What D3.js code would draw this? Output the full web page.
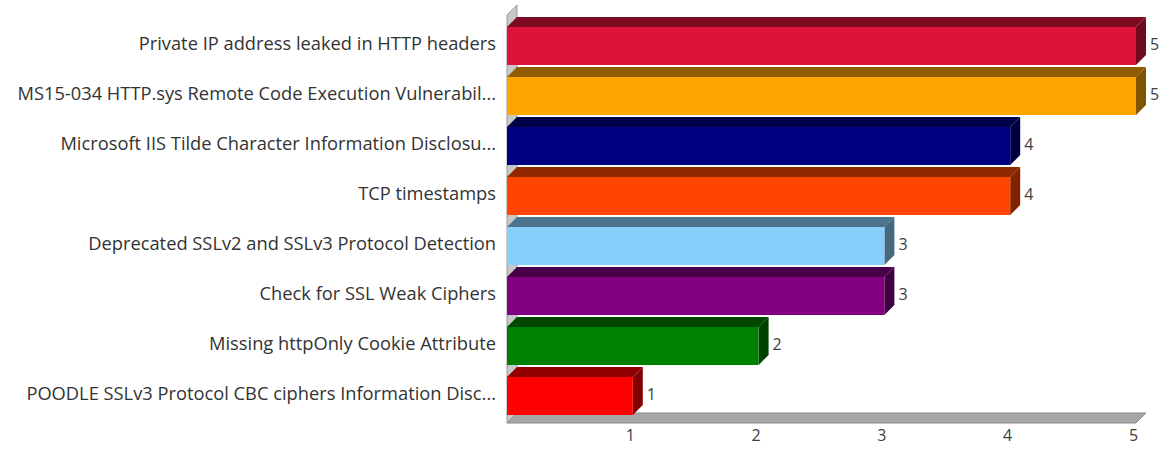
<!DOCTYPE html>
<html>
<head>
<meta charset="utf-8">
<script src="https://cdn.jsdelivr.net/npm/d3@7"></script>
<style>
  html, body { margin: 0; padding: 0; background: #fff; }
  svg { display: block; }
</style>
</head>
<body>
<svg id="chart" width="1167" height="452"></svg>
<script>
// Vulnerability counts, one bar per finding
const categories = [
  "Private IP address leaked in HTTP headers",
  "MS15-034 HTTP.sys Remote Code Execution Vulnerabil...",
  "Microsoft IIS Tilde Character Information Disclosu...",
  "TCP timestamps",
  "Deprecated SSLv2 and SSLv3 Protocol Detection",
  "Check for SSL Weak Ciphers",
  "Missing httpOnly Cookie Attribute",
  "POODLE SSLv3 Protocol CBC ciphers Information Disc..."
];
const counts = [5, 5, 4, 4, 3, 3, 2, 1];
const barColors = ["#DC143C", "#FFA500", "#000080", "#FF4500", "#87CEFA", "#800080", "#008000", "#FF0000"];
const tickValues = [1, 2, 3, 4, 5];

const svg = d3.select("#chart");
const fontFamily = "'Open Sans', sans-serif";

// plot area (front plane)
const plotLeft = 507, plotRight = 1136, plotTop = 21, plotBottom = 423;
const depth = 10; // 3D extrusion offset (x right, y up)

const x = d3.scaleLinear().domain([0, 5]).range([plotLeft, plotRight]);
const y = d3.scaleBand().domain(categories).range([plotTop, plotTop + 400]).paddingInner(0.24).paddingOuter(0.12);

const g = svg.append("g");

// back wall (thin slab on the left)
g.append("path")
  .attr("d", `M${plotLeft},${plotBottom} L${plotLeft},${plotTop - 6} L${plotLeft + depth},${plotTop - 6 - depth} L${plotLeft + depth},${plotBottom - depth} Z`)
  .attr("fill", "#c8c8c8").attr("stroke", "#9a9a9a").attr("stroke-width", 1);

// floor slab
g.append("path")
  .attr("d", `M${plotLeft},${plotBottom} L${x(5)},${plotBottom} L${x(5) + depth},${plotBottom - depth} L${plotLeft + depth},${plotBottom - depth} Z`)
  .attr("fill", "#a6a6a6").attr("stroke", "#8a8a8a").attr("stroke-width", 1);

// bars
const bars = g.selectAll("g.bar").data(categories).join("g").attr("class", "bar");

bars.each(function(c, i) {
  const sel = d3.select(this);
  const x0 = x(0), x1 = x(counts[i]);
  const y0 = y(c), y1 = y(c) + y.bandwidth();
  const base = d3.rgb(barColors[i]);
  const topCol = base.darker(1.6);
  const sideCol = base.darker(1.9);
  // top face
  sel.append("path")
    .attr("d", `M${x0},${y0} L${x0 + depth},${y0 - depth} L${x1 + depth},${y0 - depth} L${x1},${y0} Z`)
    .attr("fill", topCol);
  // side face
  sel.append("path")
    .attr("d", `M${x1},${y0} L${x1 + depth},${y0 - depth} L${x1 + depth},${y1 - depth} L${x1},${y1} Z`)
    .attr("fill", sideCol);
  // front face
  sel.append("rect")
    .attr("x", x0).attr("y", y0)
    .attr("width", x1 - x0).attr("height", y1 - y0)
    .attr("fill", base);
  // value label
  sel.append("text")
    .attr("x", x1 + depth + 4)
    .attr("y", (y0 + y1) / 2 - 2)
    .attr("dy", "0.35em")
    .attr("font-family", fontFamily)
    .attr("font-size", 16)
    .attr("fill", "#404040")
    .text(counts[i]);
});

// category labels
g.selectAll("text.cat").data(categories).join("text")
  .attr("class", "cat")
  .attr("x", 496)
  .attr("y", d => y(d) + y.bandwidth() / 2 - 2)
  .attr("dy", "0.35em")
  .attr("text-anchor", "end")
  .attr("font-family", fontFamily)
  .attr("font-size", 18.3)
  .attr("fill", "#333")
  .text(d => d);

// bottom axis tick labels
const axis = d3.axisBottom(x).tickValues(tickValues).tickSize(0).tickPadding(7).tickFormat(d3.format("d"));
const ax = svg.append("g").attr("transform", `translate(-3,${plotBottom})`).call(axis);
ax.select(".domain").remove();
ax.selectAll("text")
  .attr("font-family", fontFamily)
  .attr("font-size", 16)
  .attr("fill", "#404040");
</script>
</body>
</html>
